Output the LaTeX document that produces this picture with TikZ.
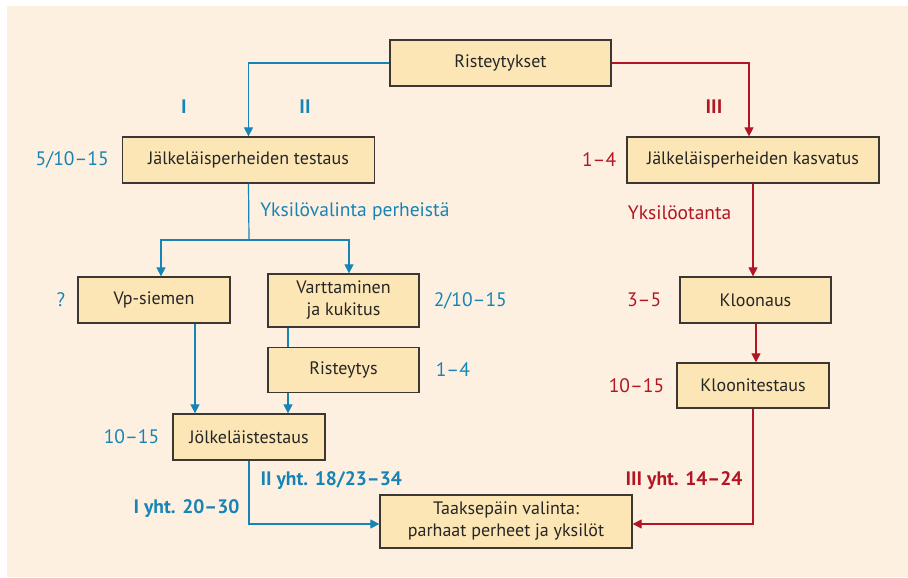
\documentclass[tikz,border=0pt]{standalone}
\usepackage{fontspec}
\setmainfont{PT Sans}
\usetikzlibrary{positioning, arrows.meta}
\definecolor{paper}{RGB}{253,240,224}
\definecolor{boxfill}{RGB}{253,230,181}
\definecolor{boxline}{RGB}{60,55,50}
\definecolor{lineblue}{RGB}{22,132,182}
\definecolor{linered}{RGB}{178,22,36}

\begin{document}
\begin{tikzpicture}[
  x=1pt, y=-1pt,
  every node/.style={font=\fontsize{18}{22}\selectfont},
  stage/.style={rectangle, draw=boxline, line width=1.3pt, fill=boxfill, text=black!85,
    inner sep=0pt, align=center, minimum width=152pt, minimum height=46pt},
  widestage/.style={stage, minimum width=252pt},
  bluenum/.style={text=lineblue, inner sep=0pt, font=\fontsize{19.5}{23}\selectfont},
  rednum/.style={text=linered, inner sep=0pt, font=\fontsize{19.5}{23}\selectfont},
  total/.style={font=\fontsize{19.5}{23}\selectfont\bfseries},
  blueline/.style={draw=lineblue, line width=1.2pt},
  redline/.style={draw=linered, line width=1.2pt},
  >={Triangle[length=9pt, width=9pt]}
]

\useasboundingbox (0,0) rectangle (908,578);
\fill[paper] (7,6) rectangle (908,577);

% boxes
\node[stage, minimum width=221pt] (rist) at (500.5,63) {Risteytykset};
\node[widestage] (testaus) at (248.5,160) {Jälkeläisperheiden testaus};
\node[widestage] (kasvatus) at (753,160) {Jälkeläisperheiden kasvatus};
\node[stage] (vp) at (154,300) {Vp-siemen};
\node[stage, minimum width=151pt, minimum height=53pt] (vartt) at (343.5,300.5) {Varttaminen\\ja kukitus};
\node[stage, minimum width=151pt, minimum height=45pt, below=19pt of vartt] (risty) {Risteytys};
\node[stage] (jolk) at (249,437) {Jölkeläistestaus};
\node[stage, minimum width=151pt] (kloon) at (755.5,300) {Kloonaus};
\node[stage, minimum height=45pt] (klooni) at (753,385.5) {Kloonitestaus};
\node[widestage, minimum height=53pt] (taak) at (506,521.5) {Taaksepäin valinta:\\parhaat perheet ja yksilöt};

% route labels
\node[bluenum, total] (routeI) at (184,107) {I};
\node[bluenum, total] (routeII) at (305,107) {II};
\node[rednum, total] (routeIII) at (714,107) {III};

% years
\node[bluenum, left=13pt of testaus] (ytestaus) {5/10–15};
\node[bluenum, left=12pt of vp] (yvp) {?};
\node[bluenum, right=14pt of vartt] (yvartt) {2/10–15};
\node[bluenum, right=16pt of risty] (yristy) {1–4};
\node[bluenum, left=13pt of jolk] (yjolk) {10–15};
\node[rednum, left=10pt of kasvatus] (ykasvatus) {1–4};
\node[rednum, left=18pt of kloon] (ykloon) {3–5};
\node[rednum, left=12pt of klooni] (yklooni) {10–15};

% route I and II
\coordinate (split) at (249,240);
\draw[blueline, ->] (rist.west) -| (testaus.north);
\draw[blueline] (testaus.south) -- node[bluenum, right=11pt] (valinta) {Yksilövalinta perheistä} (split);
\draw[blueline, ->] (split) -| ([xshift=7pt]vp.north);
\draw[blueline, ->] (split) -| ([xshift=5.5pt]vartt.north);
\draw[blueline] ([xshift=-55.5pt]vartt.south) -- ([xshift=-55.5pt]risty.north);
\draw[blueline, ->] ([xshift=-55.5pt]risty.south) -- ([xshift=-55.5pt]risty.south |- jolk.north);
\draw[blueline, ->] ([xshift=41pt]vp.south) -- ([xshift=41pt]vp.south |- jolk.north);
\draw[blueline, ->] (jolk.south) |- node[bluenum, total, pos=0.16, right=11pt] (sumII) {II yht. 18/23–34}
  node[bluenum, total, pos=0.375, left=9pt] (sumI) {I yht. 20–30} ([yshift=-2.5pt]taak.west);

% route III
\draw[redline, ->] (rist.east) -| ([xshift=-4pt]kasvatus.north);
\draw[redline, ->] (kasvatus.south) -- node[rednum, pos=0.31, left=21pt] (otanta) {Yksilöotanta} (kasvatus.south |- kloon.north);
\draw[redline, ->] ([xshift=0.5pt]kloon.south) -- ([xshift=0.5pt]kloon.south |- klooni.north);
\draw[redline, ->] (klooni.south) |- node[rednum, total, pos=0.31, left=10pt] (sumIII) {III yht. 14–24} ([yshift=-2.5pt]taak.east);

\end{tikzpicture}
\end{document}
